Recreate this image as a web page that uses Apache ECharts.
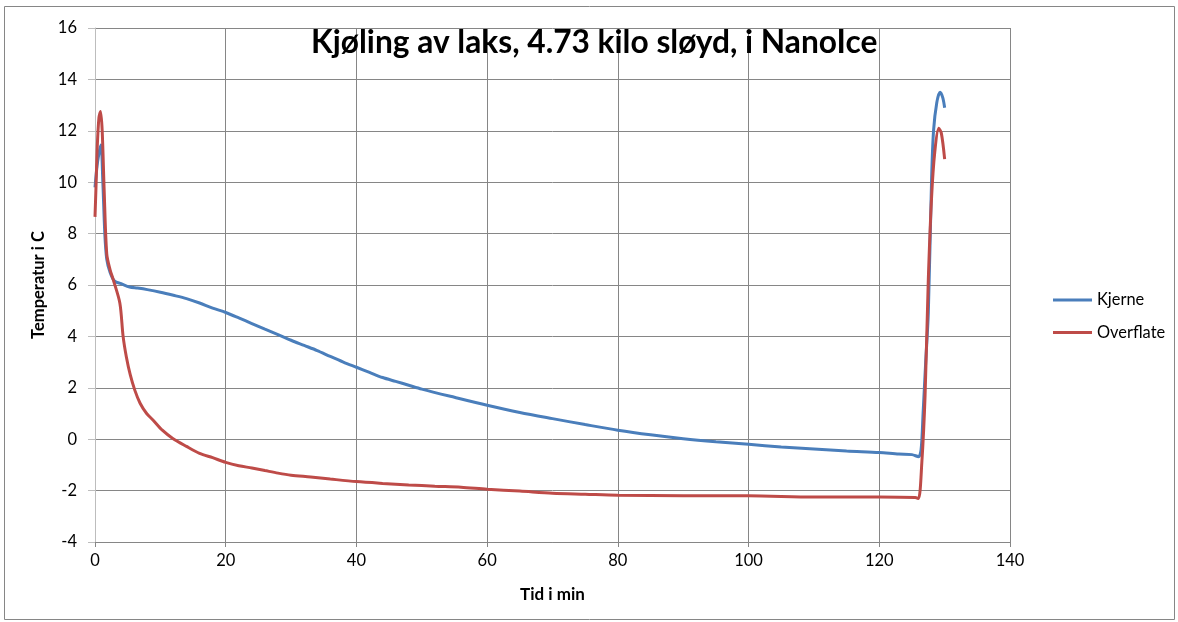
<!DOCTYPE html>
<html><head><meta charset="utf-8">
<script src="https://cdn.jsdelivr.net/npm/echarts@6/dist/echarts.min.js"></script>
<style>html,body{margin:0;padding:0;background:#fff}#c{width:1178px;height:622px}</style>
</head><body><div id="c"></div>
<script>
const titleText = 'Kjøling av laks, 4.73 kilo sløyd, i NanoIce';
const xName = 'Tid i min';
const yName = 'Temperatur i C';
const seriesNames = ['Kjerne', 'Overflate'];

const kjerneT = [0, 0.4, 0.9, 1.2, 1.5, 1.8, 2.3, 3.0, 4, 5.3, 6.5, 8, 10, 12, 14, 16, 18, 20, 22, 24, 26, 28, 30, 32, 34, 36, 38, 40, 42, 44, 46, 48, 50, 55, 60, 65, 70, 75, 80, 85, 90, 95, 100, 105, 110, 115, 120, 123, 125, 126, 126.4, 126.7, 127.1, 127.5, 128, 128.3, 128.8, 129.3, 129.7, 130];
const kjerneV = [9.8, 10.8, 11.45, 10.0, 8.0, 7.0, 6.5, 6.15, 6.05, 5.92, 5.88, 5.82, 5.72, 5.6, 5.47, 5.3, 5.1, 4.93, 4.72, 4.5, 4.28, 4.07, 3.85, 3.65, 3.45, 3.22, 3.0, 2.8, 2.6, 2.4, 2.25, 2.1, 1.95, 1.63, 1.32, 1.04, 0.8, 0.57, 0.35, 0.17, 0.02, -0.1, -0.2, -0.3, -0.38, -0.46, -0.52, -0.58, -0.6, -0.68, -0.4, 1.0, 3.0, 4.9, 10.1, 12.0, 13.1, 13.5, 13.3, 12.9];

const overflateT = [0, 0.15, 0.35, 0.6, 0.85, 1.1, 1.4, 1.8, 2.3, 2.8, 3.8, 4.3, 4.8, 5.4, 6.1, 6.9, 7.9, 8.9, 10.3, 11.9, 14, 16, 18, 20, 22, 24, 26, 28, 30, 33, 36, 40, 44, 48, 52, 56, 60, 65, 70, 75, 80, 90, 100, 110, 120, 125.5, 126.0, 126.5, 127.0, 127.5, 128.0, 128.5, 129.1, 129.5, 130];
const overflateV = [8.65, 9.8, 11.4, 12.5, 12.75, 12.0, 9.7, 7.2, 6.6, 6.2, 5.3, 4.0, 3.2, 2.5, 1.9, 1.4, 1.0, 0.74, 0.35, 0.03, -0.28, -0.55, -0.72, -0.9, -1.03, -1.12, -1.22, -1.32, -1.4, -1.47, -1.55, -1.65, -1.72, -1.78, -1.83, -1.87, -1.95, -2.02, -2.1, -2.14, -2.18, -2.2, -2.2, -2.25, -2.25, -2.27, -2.31, -0.95, 1.65, 6.2, 9.4, 11.2, 12.1, 11.9, 10.9];

const zip = (a, b) => a.map((t, i) => [t, b[i]]);
const font = 'Lato, "Liberation Sans", sans-serif';
const chart = echarts.init(document.getElementById('c'), null, {renderer: 'canvas'});
chart.setOption({
  animation: false,
  backgroundColor: '#fff',
  graphic: [{type: 'rect', shape: {x: 4.5, y: 6.5, width: 1170, height: 613}, style: {fill: 'none', stroke: '#868686', lineWidth: 1}, z: -1}],
  title: {text: titleText, left: 311, top: 27, padding: 0, textStyle: {fontFamily: font, fontSize: 31.7, fontWeight: 'bold', color: '#000'}},
  grid: {left: 95, top: 28, right: 168, bottom: 80},
  legend: {
    orient: 'vertical', left: 1053, top: 292, padding: 0, itemWidth: 39, itemHeight: 14, itemGap: 16.5,
    icon: 'path://M0,5.5 L39,5.5 L39,8.5 L0,8.5 Z',
    textStyle: {fontFamily: font, fontSize: 16.4, color: '#000'},
    data: seriesNames
  },
  xAxis: {
    type: 'value', min: 0, max: 140, interval: 20,
    name: xName, nameLocation: 'middle', nameGap: 44,
    nameTextStyle: {fontFamily: font, fontSize: 17, fontWeight: 'bold', color: '#000'},
    axisLine: {onZero: false, lineStyle: {color: '#868686'}},
    axisTick: {show: true, length: 5, lineStyle: {color: '#868686'}},
    axisLabel: {fontFamily: font, fontSize: 16.5, color: '#000', margin: 10},
    splitLine: {show: true, lineStyle: {color: '#868686', width: 1}}
  },
  yAxis: {
    type: 'value', min: -4, max: 16, interval: 2,
    name: yName, nameLocation: 'middle', nameGap: 43, nameRotate: 90,
    nameTextStyle: {fontFamily: font, fontSize: 16.5, fontWeight: 'bold', color: '#000'},
    axisLine: {show: true, lineStyle: {color: '#bdbdbd'}},
    axisTick: {show: true, length: 7, lineStyle: {color: '#bdbdbd'}},
    axisLabel: {fontFamily: font, fontSize: 16.5, color: '#000', margin: 18},
    splitLine: {show: true, lineStyle: {color: '#868686', width: 1}}
  },
  series: [
    {name: seriesNames[0], type: 'line', data: zip(kjerneT, kjerneV), smooth: 0.3, showSymbol: false, symbol: 'none',
     lineStyle: {color: '#4A7EBB', width: 3}, itemStyle: {color: '#4A7EBB'}},
    {name: seriesNames[1], type: 'line', data: zip(overflateT, overflateV), smooth: 0.3, showSymbol: false, symbol: 'none',
     lineStyle: {color: '#BE4B48', width: 3}, itemStyle: {color: '#BE4B48'}}
  ]
});
</script></body></html>
